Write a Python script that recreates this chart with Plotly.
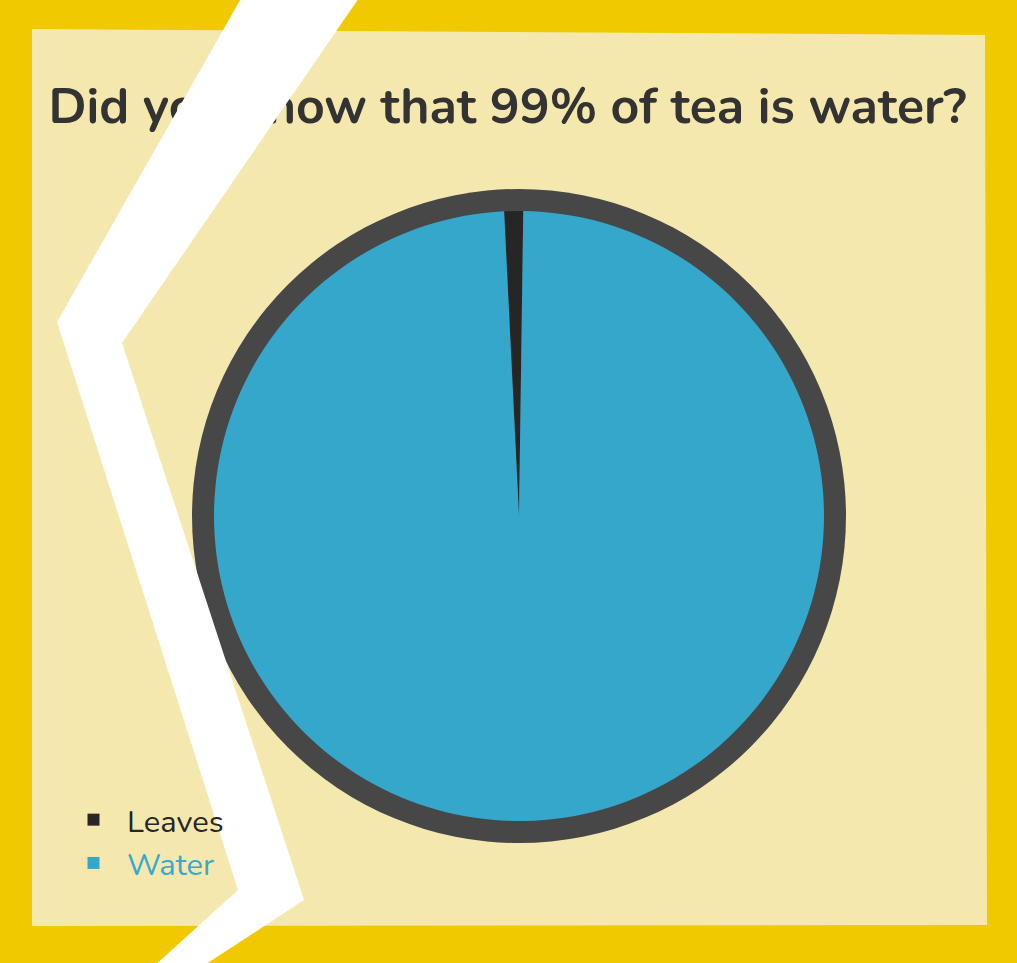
import plotly.graph_objects as go

W, H = 1017, 963

labels = ["Leaves", "Water"]
values = [1, 99]
slice_colors = ["#262626", "#35a7cb"]
legend_text_colors = ["#262626", "#3aa8cc"]
title_text = "Did you know that 99% of tea is water?"

BG_YELLOW = "#f0c900"
PAPER = "#f5e8ae"
RING = "#474747"
FONT = "Nunito, Lato, 'Open Sans', sans-serif"


def px(x):
    return x / W


def py(y):
    return 1 - y / H


def path(points):
    return "M " + " L ".join(f"{px(x):.5f},{py(y):.5f}" for x, y in points) + " Z"


legend_labels = [f"<span style='color:{c}'>{l}</span>" for l, c in zip(labels, legend_text_colors)]

cx, cy, r_pie, r_ring = 519, 516, 305, 327

fig = go.Figure(
    go.Pie(
        labels=legend_labels,
        values=values,
        marker=dict(colors=slice_colors, line=dict(width=0)),
        sort=False,
        direction="clockwise",
        rotation=-2.8,
        textinfo="none",
        hoverinfo="label+percent",
        domain=dict(x=[px(cx - r_pie), px(cx + r_pie)], y=[py(cy + r_pie), py(cy - r_pie)]),
    )
)

shapes = [
    # paper sheet
    dict(type="path", xref="paper", yref="paper", layer="below",
         path=path([(32, 29), (985, 35), (987, 925), (32, 926)]),
         fillcolor=PAPER, line=dict(width=0)),
    # pie outline ring
    dict(type="circle", xref="paper", yref="paper", layer="below",
         x0=px(cx - r_ring), x1=px(cx + r_ring), y0=py(cy + r_ring), y1=py(cy - r_ring),
         fillcolor=RING, line=dict(width=0)),
    # title (as shape label so the tear covers it)
    dict(type="rect", xref="paper", yref="paper", layer="above",
         x0=px(20), x1=px(995), y0=py(135), y1=py(80),
         fillcolor="rgba(0,0,0,0)", line=dict(width=0),
         label=dict(text=title_text, textposition="middle center",
                    font=dict(family=FONT, size=50, color="#333333", weight="bold"))),
    # white tear
    dict(type="path", xref="paper", yref="paper", layer="above",
         path=path([(243, -5), (57, 322), (238, 890), (152, 968),
                    (200, 968), (304, 900), (122, 343), (361, -5)]),
         fillcolor="#ffffff", line=dict(width=0)),
]

fig.update_layout(
    width=W, height=H,
    margin=dict(l=0, r=0, t=0, b=0),
    paper_bgcolor=BG_YELLOW,
    plot_bgcolor=BG_YELLOW,
    shapes=shapes,
    showlegend=True,
    legend=dict(x=px(60), y=py(793), xanchor="left", yanchor="top",
                bgcolor="rgba(0,0,0,0)", font=dict(family=FONT, size=31, color="#262626"),
                itemwidth=57, tracegroupgap=0),
)

fig.write_html("out.html", config={"displayModeBar": False},
               post_script="document.body.style.margin='0';")
